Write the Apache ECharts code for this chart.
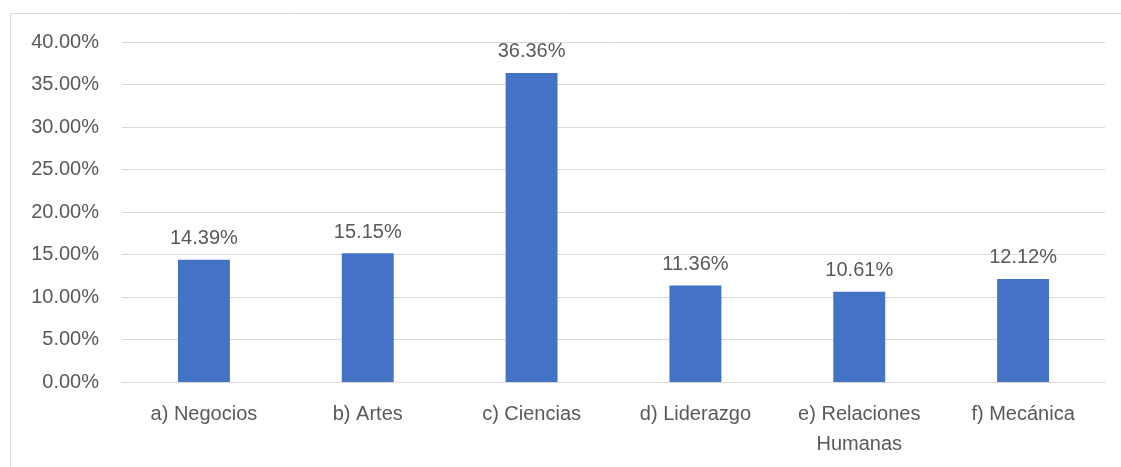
<!DOCTYPE html>
<html>
<head>
<meta charset="utf-8">
<script src="https://cdn.jsdelivr.net/npm/echarts@6/dist/echarts.min.js"></script>
<style>
  html, body { margin: 0; padding: 0; background: #fff; }
  #chart { width: 1121px; height: 467px; }
</style>
</head>
<body>
<div id="chart"></div>
<script>
const categories = ["a) Negocios", "b) Artes", "c) Ciencias", "d) Liderazgo", "e) Relaciones\nHumanas", "f) Mecánica"];
const values = [14.39, 15.15, 36.36, 11.36, 10.61, 12.12];

const font = "Liberation Sans";
const textColor = "#595959";

const chart = echarts.init(document.getElementById("chart"));

chart.setOption({
  animation: false,
  graphic: [
    {
      // chart frame (only the top and left edges show)
      type: "rect",
      shape: { x: 10.5, y: 13.5, width: 1200, height: 500 },
      style: { fill: "none", stroke: "#d9d9d9", lineWidth: 1 },
      silent: true
    }
  ],
  grid: { left: 122, right: 16, top: 42, bottom: 85 },
  xAxis: {
    type: "category",
    data: categories,
    axisLine: { lineStyle: { color: "#d9d9d9", width: 1 } },
    axisTick: { show: false },
    axisLabel: {
      color: textColor,
      fontFamily: font,
      fontSize: 20,
      margin: 17,
      lineHeight: 30,
      interval: 0
    }
  },
  yAxis: {
    type: "value",
    min: 0,
    max: 40,
    interval: 5,
    axisLine: { show: false },
    axisTick: { show: false },
    splitLine: { lineStyle: { color: "#d9d9d9", width: 1 } },
    axisLabel: {
      color: textColor,
      fontFamily: font,
      fontSize: 20,
      margin: 23,
      formatter: (v) => v.toFixed(2) + "%"
    }
  },
  series: [
    {
      type: "bar",
      data: values,
      barWidth: "31.7%",
      itemStyle: { color: "#4472c4" },
      label: {
        show: true,
        position: "top",
        distance: 11,
        color: textColor,
        fontFamily: font,
        fontSize: 20,
        formatter: (p) => p.value.toFixed(2) + "%"
      }
    }
  ]
});
</script>
</body>
</html>
